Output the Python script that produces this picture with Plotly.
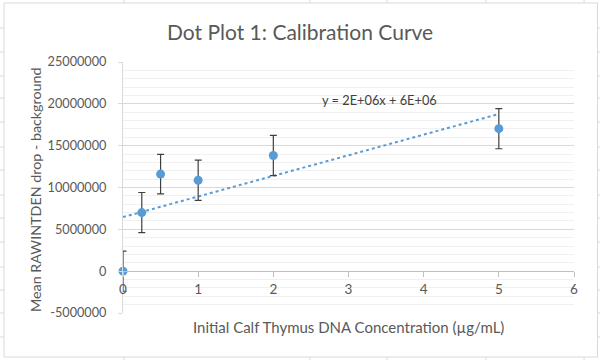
import numpy as np
import plotly.graph_objects as go

# ---- data ----
concentration = [0, 0.25, 0.5, 1, 2, 5]
mean_signal = [0, 7000000, 11600000, 10870000, 13830000, 17030000]
error = [2400000, 2400000, 2350000, 2400000, 2400000, 2400000]
y_tickvals = [-5000000, 0, 5000000, 10000000, 15000000, 20000000, 25000000]
y_ticktext = ["-5000000", "0", "5000000", "10000000", "15000000", "20000000", "25000000"]
x_tickvals = [0, 1, 2, 3, 4, 5, 6]

title_text = "Dot Plot 1: Calibration Curve"
x_title = "Initial Calf Thymus DNA Concentration (µg/mL)"
y_title = "Mean RAWINTDEN drop - background"
eq_text = "y = 2E+06x + 6E+06"

# linear trendline (least squares, as Excel)
slope, intercept = np.polyfit(concentration, mean_signal, 1)
tx = [min(concentration), max(concentration)]
ty = [slope * v + intercept for v in tx]

W, H = 600, 360
L, R, T, B = 123, 26, 62, 47
PW, PH = W - L - R, H - T - B
YMIN, YMAX = -5000000, 25000000

def px_x(p):
    return (p - L) / PW

def px_y(p):
    return ((H - B) - p) / PH

FONT = "Lato"
GRAY = "#595959"
BLUE = "#5B9BD5"

fig = go.Figure()

fig.add_trace(go.Scatter(
    x=tx, y=ty, mode="lines",
    line=dict(color=BLUE, width=2, dash="dot"),
    hoverinfo="skip", showlegend=False,
))

fig.add_trace(go.Scatter(
    x=concentration, y=mean_signal, mode="markers",
    marker=dict(color=BLUE, size=9),
    error_y=dict(type="data", array=error, visible=True,
                 color="#404040", thickness=1.2, width=3.5),
    cliponaxis=False, showlegend=False,
))

shapes = []
shapes.append(dict(type="rect", xref="paper", yref="paper",
                   x0=px_x(4), x1=px_x(597.5), y0=px_y(357), y1=px_y(3),
                   line=dict(color="#d9d9d9", width=1), fillcolor="rgba(0,0,0,0)",
                   layer="below"))
for gx in [124, 310, 387, 486, 584]:
    shapes.append(dict(type="line", xref="paper", yref="paper",
                       x0=px_x(gx), x1=px_x(gx), y0=px_y(0), y1=px_y(3),
                       line=dict(color="#dadada", width=1)))
    shapes.append(dict(type="line", xref="paper", yref="paper",
                       x0=px_x(gx), x1=px_x(gx), y0=px_y(357), y1=px_y(360),
                       line=dict(color="#dadada", width=1)))
for gy in [28, 52, 76, 98, 122, 147, 170, 195, 218, 242, 267, 290, 313, 337]:
    shapes.append(dict(type="line", xref="paper", yref="paper",
                       x0=px_x(0), x1=px_x(4), y0=px_y(gy), y1=px_y(gy),
                       line=dict(color="#dadada", width=1)))
    shapes.append(dict(type="line", xref="paper", yref="paper",
                       x0=px_x(597.5), x1=px_x(600), y0=px_y(gy), y1=px_y(gy),
                       line=dict(color="#dadada", width=1)))

fig.update_layout(
    width=W, height=H,
    margin=dict(l=L, r=R, t=T, b=B, autoexpand=False),
    paper_bgcolor="white", plot_bgcolor="white",
    font=dict(family=FONT, color=GRAY, size=13),
    shapes=shapes,
    showlegend=False,
)

fig.update_xaxes(
    range=[0, 6], tickvals=x_tickvals, showgrid=False, zeroline=False,
    showline=True, linecolor="#bfbfbf", linewidth=1,
    ticks="outside", ticklen=5, tickcolor="#bfbfbf",
    anchor="free", position=(0 - YMIN) / (YMAX - YMIN),
    tickfont=dict(family=FONT, size=13.5, color=GRAY),
    ticklabelstandoff=1, automargin=False,
)
fig.update_yaxes(
    range=[YMIN, YMAX], tickvals=y_tickvals, ticktext=y_ticktext,
    showgrid=True, gridcolor="#d9d9d9", gridwidth=1, zeroline=False,
    showline=True, linecolor="#d9d9d9", linewidth=1,
    ticks="outside", ticklen=4, tickcolor="#d9d9d9",
    minor=dict(dtick=1000000, tick0=0, showgrid=True, gridcolor="#f0f0f0", ticks=""),
    tickfont=dict(family=FONT, size=12.7, color=GRAY),
    ticklabelstandoff=9, automargin=False,
)

fig.add_annotation(text=title_text, xref="paper", yref="paper",
                   x=px_x(300), y=px_y(31), xanchor="center", yanchor="middle",
                   showarrow=False, font=dict(family=FONT, size=21, color=GRAY))
fig.add_annotation(text=x_title, xref="paper", yref="paper",
                   x=px_x(348.5), y=px_y(327), xanchor="center", yanchor="middle",
                   showarrow=False, font=dict(family=FONT, size=15, color=GRAY))
fig.add_annotation(text=y_title, xref="paper", yref="paper",
                   x=px_x(35), y=px_y(190), xanchor="center", yanchor="middle",
                   textangle=-90, showarrow=False,
                   font=dict(family=FONT, size=14.3, color=GRAY))
fig.add_annotation(text=eq_text, xref="paper", yref="paper",
                   x=px_x(320), y=px_y(100), xanchor="left", yanchor="middle",
                   showarrow=False, font=dict(family=FONT, size=12.8, color="#404040"))

fig.write_html("out.html", config={"displayModeBar": False},
               post_script="document.body.style.margin='0';")
